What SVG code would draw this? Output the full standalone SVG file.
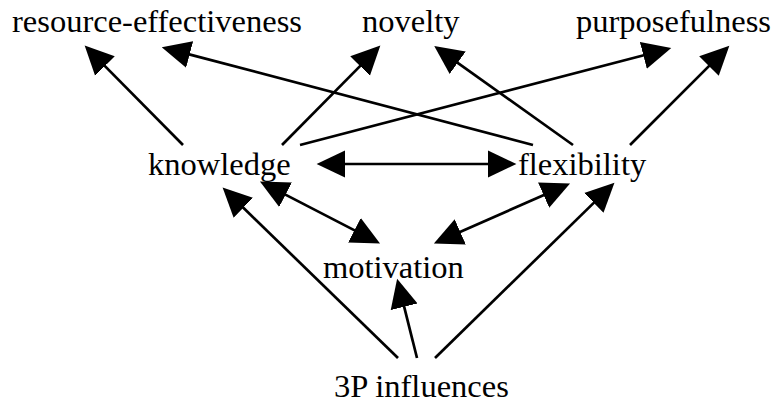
<svg xmlns="http://www.w3.org/2000/svg" width="771" height="403" viewBox="0 0 771 403">
<style>
  text { font-family: "Liberation Serif", "Times New Roman", serif; font-size: 32.5px; fill: #000; }
  .c line, .c path { stroke: #000; stroke-width: 2.7; fill: none; }
</style>
<defs>
  <marker id="ah" markerUnits="userSpaceOnUse" markerWidth="30" markerHeight="30" viewBox="0 -13 26 26" refX="3" refY="0" orient="auto-start-reverse">
    <path d="M0,-12 L25,0 L0,12 z" fill="#000"/>
  </marker>
</defs>
<rect width="771" height="403" fill="#fff"/>
<g id="n-resource"><text x="12" y="32">resource-effectiveness</text></g>
<g id="n-novelty"><text x="362" y="32">novelty</text></g>
<g id="n-purpose"><text x="576" y="32">purposefulness</text></g>
<g id="n-knowledge"><text x="148" y="175">knowledge</text></g>
<g id="n-flexibility"><text x="518" y="175">flexibility</text></g>
<g id="n-motivation"><text x="323" y="278">motivation</text></g>
<g id="n-3p"><text x="334" y="397">3P influences</text></g>
<g class="c" id="connectors">
  <line x1="183" y1="145" x2="102.5" y2="63.6" marker-end="url(#ah)"/>
  <line x1="533" y1="145" x2="186.3" y2="53.6" marker-end="url(#ah)"/>
  <line x1="282" y1="145" x2="362.5" y2="63.6" marker-end="url(#ah)"/>
  <line x1="573" y1="145" x2="454.9" y2="60.8" marker-end="url(#ah)"/>
  <line x1="300" y1="145" x2="646.7" y2="54.5" marker-end="url(#ah)"/>
  <line x1="630" y1="145" x2="711.4" y2="63.6" marker-end="url(#ah)"/>
  <line x1="342" y1="164" x2="491" y2="164" marker-start="url(#ah)" marker-end="url(#ah)"/>
  <line x1="282.5" y1="193.1" x2="357.5" y2="231.9" marker-start="url(#ah)" marker-end="url(#ah)"/>
  <line x1="546.8" y1="193.8" x2="457.1" y2="233.2" marker-start="url(#ah)" marker-end="url(#ah)"/>
  <line x1="398" y1="358" x2="240.8" y2="205.3" marker-end="url(#ah)"/>
  <line x1="435" y1="358" x2="596.3" y2="200.4" marker-end="url(#ah)"/>
  <line x1="417" y1="358" x2="403.3" y2="303.4" marker-end="url(#ah)"/>
</g>
</svg>
